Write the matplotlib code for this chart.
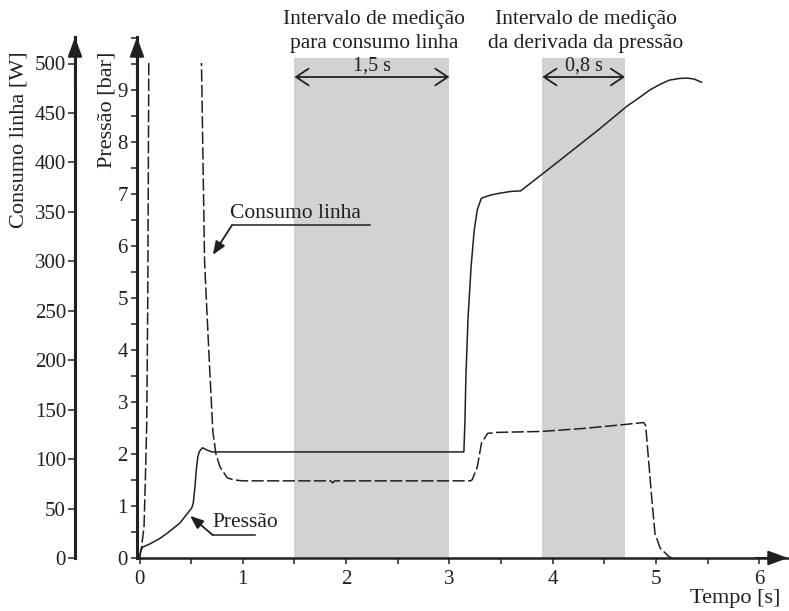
import matplotlib
matplotlib.use("Agg")
import matplotlib.pyplot as plt
from matplotlib.ticker import MultipleLocator
from matplotlib.patches import Rectangle

plt.rcParams['font.family'] = ['Liberation Serif', 'DejaVu Serif']

# ---------------- data ----------------
# Pressure curve [bar] vs time [s]
pressao_t = [0.0, 0.01, 0.03, 0.10, 0.20, 0.27, 0.39, 0.505, 0.52, 0.537, 0.55, 0.565,
             0.58, 0.61, 0.65, 0.70, 1.0, 2.0, 3.14, 3.15, 3.16, 3.18, 3.21, 3.24,
             3.27, 3.31, 3.40, 3.50, 3.60, 3.69, 4.00, 4.44, 4.72, 4.85, 4.94, 5.04,
             5.13, 5.22, 5.30, 5.37, 5.44]
pressao = [0.0, 0.12, 0.21, 0.27, 0.38, 0.48, 0.67, 0.96, 1.05, 1.37, 1.70, 1.95,
           2.05, 2.12, 2.08, 2.04, 2.04, 2.04, 2.04, 2.60, 3.50, 4.60, 5.60, 6.30,
           6.70, 6.92, 6.98, 7.02, 7.05, 7.06, 7.54, 8.23, 8.69, 8.87, 9.00, 9.11,
           9.19, 9.22, 9.23, 9.21, 9.15]

# Line consumption [W] vs time [s] (values above 500 W leave the plotted range)
consumo_t = [0.0, 0.02, 0.044, 0.06, 0.07, 0.08, 0.09, 0.10, 0.59, 0.60, 0.615, 0.63,
             0.65, 0.68, 0.71, 0.74, 0.78, 0.85, 0.91, 1.0, 1.85, 1.87, 1.89, 3.0,
             3.2, 3.22, 3.27, 3.31, 3.37, 3.46, 3.9, 4.3, 4.7, 4.88, 4.90, 4.92,
             4.96, 4.99, 5.04, 5.13, 5.16]
consumo = [0, 11, 32, 92, 136, 261, 500, 560, 560, 500, 400, 300,
           255, 190, 128, 105, 92, 81, 79, 78, 78, 76, 78, 78,
           78, 79, 92, 116, 126, 127, 128, 131, 135, 137, 134, 109,
           59, 25, 10, 1, 0]

# Measurement intervals [s]
intervalos = [(1.5, 3.0), (3.9, 4.7)]
intervalo_rotulos = ["1,5 s", "0,8 s"]
intervalo_titulos = ["Intervalo de medição\npara consumo linha",
                     "Intervalo de medição\nda derivada da pressão"]

x_ticks = [0, 1, 2, 3, 4, 5, 6]
p_ticks = [0, 1, 2, 3, 4, 5, 6, 7, 8, 9]
w_ticks = [0, 50, 100, 150, 200, 250, 300, 350, 400, 450, 500]

# ---------------- figure ----------------
INK = '#231f20'
GRAY = '#d1d2d4'
W, H = 789, 611
fig = plt.figure(figsize=(W / 100, H / 100), dpi=100)

# pixel geometry of the plot frame
x0px, x1px = 137, 788
y0px, y1px = 558, 37
rect = [x0px / W, 1 - y0px / H, (x1px - x0px) / W, (y0px - y1px) / H]

ax = fig.add_axes(rect)
ax2 = fig.add_axes(rect, sharex=ax)
ax2.patch.set_visible(False)

sx = 103.3     # px per second
x_zero = 139.5
ax.set_xlim((x0px - x_zero) / sx, (x1px - x_zero) / sx)
ax.set_ylim(0, (y0px - y1px) / 52.0)
ax2.set_ylim(0, (y0px - y1px) / 0.989)

# gray intervals
band_top = 9.62
for (a, b) in intervalos:
    ax.fill_between([a, b], 0, band_top, color=GRAY, lw=0, zorder=0)

# pressure curve
ax.plot(pressao_t, pressao, color=INK, lw=1.1, solid_joinstyle='round', zorder=3)

# consumption curve
ln, = ax2.plot(consumo_t, consumo, color=INK, lw=1.1, dashes=(8, 2.2), zorder=3)
ln.set_clip_path(Rectangle((-1, -10), 10, 510.5, transform=ax2.transData))

# double arrows and labels for the intervals
arr_y = 9.25
for (a, b), lab in zip(intervalos, intervalo_rotulos):
    ax.annotate('', xy=(a, arr_y), xytext=(b, arr_y),
                arrowprops=dict(arrowstyle='<->,head_length=0.45,head_width=0.3',
                                lw=1.3, color=INK, shrinkA=0, shrinkB=0,
                                mutation_scale=20))
    ax.text((a + b) / 2, arr_y + 0.02, lab, ha='center', va='bottom',
            fontsize=14.5, color=INK)

for (a, b), tit in zip(intervalos, intervalo_titulos):
    ax.text((a + b) / 2 + 0.02, 10.13, tit, ha='center', va='center',
            fontsize=15.5, color=INK, linespacing=1.35)

# annotation: Consumo linha
ax.text(0.876, 6.63, 'Consumo linha', ha='left', va='center', fontsize=15.5, color=INK)
ax.plot([0.895, 2.23], [6.40, 6.40], color=INK, lw=1.1)
ax.annotate('', xy=(0.71, 5.83), xytext=(0.895, 6.40),
            arrowprops=dict(arrowstyle='-|>,head_length=0.5,head_width=0.2',
                            lw=1.3, color=INK, shrinkA=0, shrinkB=0,
                            mutation_scale=16))

# annotation: Pressão
ax.text(0.71, 0.69, 'Pressão', ha='left', va='center', fontsize=15.5, color=INK)
ax.plot([0.71, 1.12], [0.44, 0.44], color=INK, lw=1.1)
ax.annotate('', xy=(0.49, 0.81), xytext=(0.71, 0.44),
            arrowprops=dict(arrowstyle='-|>,head_length=0.5,head_width=0.2',
                            lw=1.3, color=INK, shrinkA=0, shrinkB=0,
                            mutation_scale=16))

# ---------------- axes styling ----------------
for s in ['top', 'right']:
    ax.spines[s].set_visible(False)
    ax2.spines[s].set_visible(False)
ax2.spines['bottom'].set_visible(False)
ax.spines['left'].set_linewidth(2.2)
ax.spines['bottom'].set_linewidth(1.8)
ax.spines['left'].set_color(INK)
ax.spines['bottom'].set_color(INK)

cons_frac = (75 - x0px) / (x1px - x0px)
ax2.spines['left'].set_position(('axes', cons_frac))
ax2.spines['left'].set_linewidth(2.2)
ax2.spines['left'].set_color(INK)
ax2.xaxis.set_visible(False)

ax.set_xticks(x_ticks)
ax.xaxis.set_minor_locator(MultipleLocator(0.5))
ax.set_yticks(p_ticks)
ax.yaxis.set_minor_locator(MultipleLocator(0.5))
ax.tick_params(axis='x', which='both', direction='out', length=4.5, width=1.1,
               colors=INK, labelsize=15, pad=4)
ax.tick_params(axis='y', which='both', direction='out', length=4, width=1.1,
               colors=INK, labelsize=15, pad=2.5)
ax2.set_yticks(w_ticks)
ax2.tick_params(axis='y', which='both', direction='out', length=5, width=1.1,
                colors=INK, labelsize=15, pad=1.5, left=True, labelleft=True,
                right=False, labelright=False)

# arrow heads on axes
def head(axis, p_from, p_to):
    axis.annotate('', xy=p_to, xytext=p_from, xycoords='axes fraction',
                  textcoords='axes fraction',
                  arrowprops=dict(arrowstyle='-|>,head_length=0.6,head_width=0.22',
                                  lw=1.5, color=INK, shrinkA=0, shrinkB=0,
                                  mutation_scale=20))

head(ax, (0, 0.9), (0, 1.0))
head(ax, (0.95, 0), (1.0, 0))
head(ax2, (cons_frac, 0.9), (cons_frac, 1.0))

# axis labels
fig.text(107 / W, 1 - 110 / H, 'Pressão [bar]', rotation=90, ha='center', va='center',
         fontsize=16, color=INK)
fig.text(19 / W, 1 - 140 / H, 'Consumo linha [W]', rotation=90, ha='center',
         va='center', fontsize=16, color=INK)
fig.text(780 / W, 1 - 598 / H, 'Tempo [s]', ha='right', va='center', fontsize=16,
         color=INK)

fig.savefig('out.png', dpi=100)
